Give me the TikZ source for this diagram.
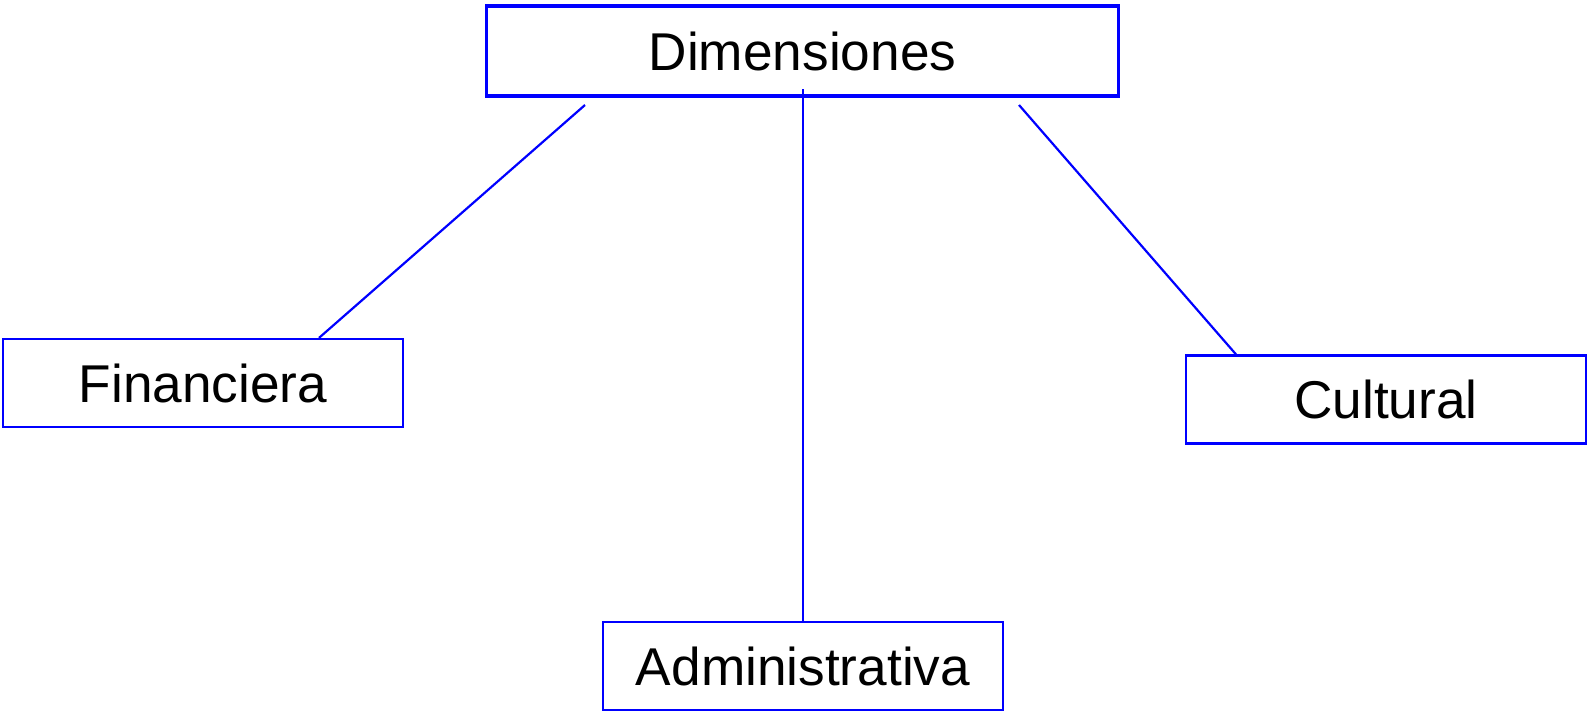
\documentclass[tikz,border=0pt]{standalone}
\usepackage{fontspec}
\setmainfont{Liberation Sans}
\begin{document}
\begin{tikzpicture}[x=0.5pt, y=-0.5pt,
  caja/.style={draw=blue, line width=1.1pt, minimum width=200pt, minimum height=44pt, inner sep=0pt, font=\fontsize{26.6}{30}\selectfont},
  raiz/.style={caja, line width=1.7pt, minimum width=316pt, minimum height=45pt},
  rama/.style={draw=blue, line width=1.1pt}]
\useasboundingbox (0,0) rectangle (1588,712);
\node[raiz] (dim) at (802.5, 51) {Dimensiones};
\node[caja] (fin) at (203, 383) {Financiera};
\node[caja] (cul) at (1386, 399.5) {Cultural};
\node[caja] (adm) at (803, 666) {Administrativa};
\coordinate (d1) at (585, 105);
\coordinate (d2) at (803, 89);
\coordinate (d3) at (1019, 105);
\draw[rama] (d1) -- ([xshift=58pt]fin.north);
\draw[rama] (d2) -- (adm.north);
\draw[rama] (d3) -- ([xshift=-75pt]cul.north);
\end{tikzpicture}
\end{document}
